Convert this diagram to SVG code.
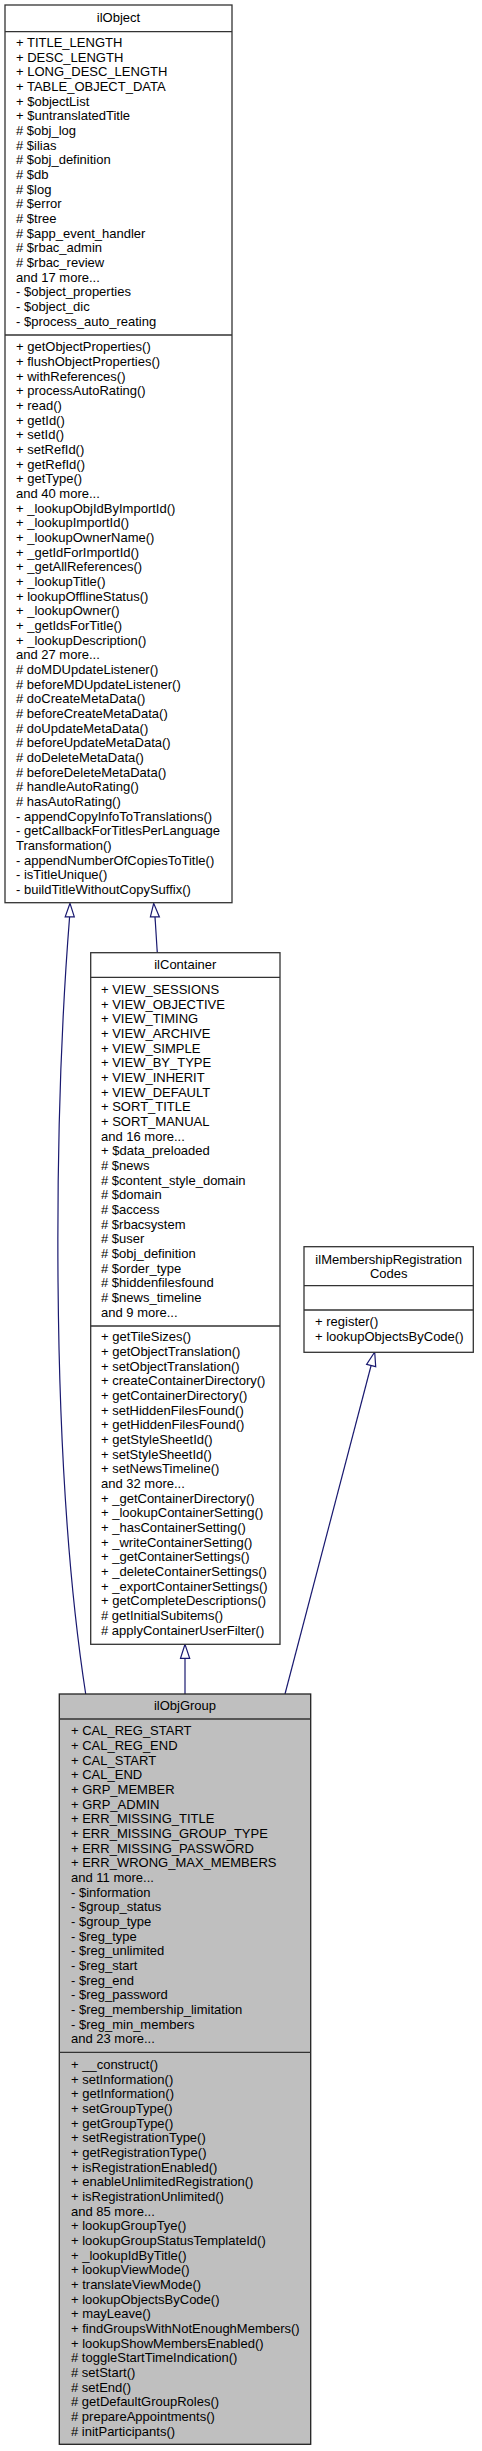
<svg xmlns="http://www.w3.org/2000/svg" width="482" height="2451" viewBox="0 0 482 2451">
<style>
text{font-family:"Liberation Sans",Arial,Helvetica,sans-serif;font-size:13px;fill:#000}
.box{fill:#fff;stroke:#333;stroke-width:1.3}
.cur{fill:#bfbfbf;stroke:#222;stroke-width:1.3}
.div{stroke:#333;stroke-width:1.3}
.edge{fill:none;stroke:#191970;stroke-width:1.2}
.head{fill:#fff;stroke:#191970;stroke-width:1.2}
.t{text-anchor:middle}
</style>
<rect width="482" height="2451" fill="#fff"/>
<g id="connectors">
<path class="edge" d="M157.3,952.7 L155,916.9"/>
<polygon class="head" points="153.7,903.3 150.4,916.9 159.4,916.9"/>
<path class="edge" d="M85.7,1694 C48,1450 55,1100 69.6,916.9"/>
<polygon class="head" points="70,903.3 65.2,916.9 74.3,916.9"/>
<path class="edge" d="M185,1694 V1658.3"/>
<polygon class="head" points="185,1644.3 180.5,1658.3 189.7,1658.3"/>
<path class="edge" d="M285,1694 L371.1,1365.5"/>
<polygon class="head" points="374.7,1352 366.6,1364.3 375.7,1366.7"/>
</g>
<g id="ilObject">
<rect class="box" x="5" y="5" width="227" height="897.7"/>
<line class="div" x1="5" y1="31.7" x2="232" y2="31.7"/>
<line class="div" x1="5" y1="335" x2="232" y2="335"/>
<text class="t" x="118.5" y="21.9">ilObject</text>
<text x="16" y="46.9"><tspan x="16">+ TITLE_LENGTH</tspan><tspan x="16" dy="14.67">+ DESC_LENGTH</tspan><tspan x="16" dy="14.67">+ LONG_DESC_LENGTH</tspan><tspan x="16" dy="14.67">+ TABLE_OBJECT_DATA</tspan><tspan x="16" dy="14.67">+ $objectList</tspan><tspan x="16" dy="14.67">+ $untranslatedTitle</tspan><tspan x="16" dy="14.67"># $obj_log</tspan><tspan x="16" dy="14.67"># $ilias</tspan><tspan x="16" dy="14.67"># $obj_definition</tspan><tspan x="16" dy="14.67"># $db</tspan><tspan x="16" dy="14.67"># $log</tspan><tspan x="16" dy="14.67"># $error</tspan><tspan x="16" dy="14.67"># $tree</tspan><tspan x="16" dy="14.67"># $app_event_handler</tspan><tspan x="16" dy="14.67"># $rbac_admin</tspan><tspan x="16" dy="14.67"># $rbac_review</tspan><tspan x="16" dy="14.67">and 17 more...</tspan><tspan x="16" dy="14.67">- $object_properties</tspan><tspan x="16" dy="14.67">- $object_dic</tspan><tspan x="16" dy="14.67">- $process_auto_reating</tspan></text>
<text x="16" y="351.3"><tspan x="16">+ getObjectProperties()</tspan><tspan x="16" dy="14.67">+ flushObjectProperties()</tspan><tspan x="16" dy="14.67">+ withReferences()</tspan><tspan x="16" dy="14.67">+ processAutoRating()</tspan><tspan x="16" dy="14.67">+ read()</tspan><tspan x="16" dy="14.67">+ getId()</tspan><tspan x="16" dy="14.67">+ setId()</tspan><tspan x="16" dy="14.67">+ setRefId()</tspan><tspan x="16" dy="14.67">+ getRefId()</tspan><tspan x="16" dy="14.67">+ getType()</tspan><tspan x="16" dy="14.67">and 40 more...</tspan><tspan x="16" dy="14.67">+ _lookupObjIdByImportId()</tspan><tspan x="16" dy="14.67">+ _lookupImportId()</tspan><tspan x="16" dy="14.67">+ _lookupOwnerName()</tspan><tspan x="16" dy="14.67">+ _getIdForImportId()</tspan><tspan x="16" dy="14.67">+ _getAllReferences()</tspan><tspan x="16" dy="14.67">+ _lookupTitle()</tspan><tspan x="16" dy="14.67">+ lookupOfflineStatus()</tspan><tspan x="16" dy="14.67">+ _lookupOwner()</tspan><tspan x="16" dy="14.67">+ _getIdsForTitle()</tspan><tspan x="16" dy="14.67">+ _lookupDescription()</tspan><tspan x="16" dy="14.67">and 27 more...</tspan><tspan x="16" dy="14.67"># doMDUpdateListener()</tspan><tspan x="16" dy="14.67"># beforeMDUpdateListener()</tspan><tspan x="16" dy="14.67"># doCreateMetaData()</tspan><tspan x="16" dy="14.67"># beforeCreateMetaData()</tspan><tspan x="16" dy="14.67"># doUpdateMetaData()</tspan><tspan x="16" dy="14.67"># beforeUpdateMetaData()</tspan><tspan x="16" dy="14.67"># doDeleteMetaData()</tspan><tspan x="16" dy="14.67"># beforeDeleteMetaData()</tspan><tspan x="16" dy="14.67"># handleAutoRating()</tspan><tspan x="16" dy="14.67"># hasAutoRating()</tspan><tspan x="16" dy="14.67">- appendCopyInfoToTranslations()</tspan><tspan x="16" dy="14.67">- getCallbackForTitlesPerLanguage</tspan><tspan x="16" dy="14.67">Transformation()</tspan><tspan x="16" dy="14.67">- appendNumberOfCopiesToTitle()</tspan><tspan x="16" dy="14.67">- isTitleUnique()</tspan><tspan x="16" dy="14.67">- buildTitleWithoutCopySuffix()</tspan></text>
</g>
<g id="ilContainer">
<rect class="box" x="90.7" y="952.7" width="189.3" height="691.6"/>
<line class="div" x1="90.7" y1="977.3" x2="280" y2="977.3"/>
<line class="div" x1="90.7" y1="1326" x2="280" y2="1326"/>
<text class="t" x="185.3" y="968.9">ilContainer</text>
<text x="101" y="993.9"><tspan x="101">+ VIEW_SESSIONS</tspan><tspan x="101" dy="14.67">+ VIEW_OBJECTIVE</tspan><tspan x="101" dy="14.67">+ VIEW_TIMING</tspan><tspan x="101" dy="14.67">+ VIEW_ARCHIVE</tspan><tspan x="101" dy="14.67">+ VIEW_SIMPLE</tspan><tspan x="101" dy="14.67">+ VIEW_BY_TYPE</tspan><tspan x="101" dy="14.67">+ VIEW_INHERIT</tspan><tspan x="101" dy="14.67">+ VIEW_DEFAULT</tspan><tspan x="101" dy="14.67">+ SORT_TITLE</tspan><tspan x="101" dy="14.67">+ SORT_MANUAL</tspan><tspan x="101" dy="14.67">and 16 more...</tspan><tspan x="101" dy="14.67">+ $data_preloaded</tspan><tspan x="101" dy="14.67"># $news</tspan><tspan x="101" dy="14.67"># $content_style_domain</tspan><tspan x="101" dy="14.67"># $domain</tspan><tspan x="101" dy="14.67"># $access</tspan><tspan x="101" dy="14.67"># $rbacsystem</tspan><tspan x="101" dy="14.67"># $user</tspan><tspan x="101" dy="14.67"># $obj_definition</tspan><tspan x="101" dy="14.67"># $order_type</tspan><tspan x="101" dy="14.67"># $hiddenfilesfound</tspan><tspan x="101" dy="14.67"># $news_timeline</tspan><tspan x="101" dy="14.67">and 9 more...</tspan></text>
<text x="101" y="1341.3"><tspan x="101">+ getTileSizes()</tspan><tspan x="101" dy="14.67">+ getObjectTranslation()</tspan><tspan x="101" dy="14.67">+ setObjectTranslation()</tspan><tspan x="101" dy="14.67">+ createContainerDirectory()</tspan><tspan x="101" dy="14.67">+ getContainerDirectory()</tspan><tspan x="101" dy="14.67">+ setHiddenFilesFound()</tspan><tspan x="101" dy="14.67">+ getHiddenFilesFound()</tspan><tspan x="101" dy="14.67">+ getStyleSheetId()</tspan><tspan x="101" dy="14.67">+ setStyleSheetId()</tspan><tspan x="101" dy="14.67">+ setNewsTimeline()</tspan><tspan x="101" dy="14.67">and 32 more...</tspan><tspan x="101" dy="14.67">+ _getContainerDirectory()</tspan><tspan x="101" dy="14.67">+ _lookupContainerSetting()</tspan><tspan x="101" dy="14.67">+ _hasContainerSetting()</tspan><tspan x="101" dy="14.67">+ _writeContainerSetting()</tspan><tspan x="101" dy="14.67">+ _getContainerSettings()</tspan><tspan x="101" dy="14.67">+ _deleteContainerSettings()</tspan><tspan x="101" dy="14.67">+ _exportContainerSettings()</tspan><tspan x="101" dy="14.67">+ getCompleteDescriptions()</tspan><tspan x="101" dy="14.67"># getInitialSubitems()</tspan><tspan x="101" dy="14.67"># applyContainerUserFilter()</tspan></text>
</g>
<g id="ilMembershipRegistrationCodes">
<rect class="box" x="304" y="1246.7" width="169.3" height="105.6"/>
<line class="div" x1="304" y1="1285.7" x2="473.3" y2="1285.7"/>
<line class="div" x1="304" y1="1310" x2="473.3" y2="1310"/>
<text class="t" x="388.7" y="1264"><tspan x="388.7">ilMembershipRegistration</tspan><tspan x="388.7" dy="14">Codes</tspan></text>
<text x="315" y="1326.3"><tspan x="315">+ register()</tspan><tspan x="315" dy="14.67">+ lookupObjectsByCode()</tspan></text>
</g>
<g id="ilObjGroup">
<rect class="cur" x="59.3" y="1694" width="251.4" height="750.3"/>
<line class="div" x1="59.3" y1="1719" x2="310.7" y2="1719"/>
<line class="div" x1="59.3" y1="2052.3" x2="310.7" y2="2052.3"/>
<text class="t" x="185" y="1710.3">ilObjGroup</text>
<text x="71" y="1735.3"><tspan x="71">+ CAL_REG_START</tspan><tspan x="71" dy="14.67">+ CAL_REG_END</tspan><tspan x="71" dy="14.67">+ CAL_START</tspan><tspan x="71" dy="14.67">+ CAL_END</tspan><tspan x="71" dy="14.67">+ GRP_MEMBER</tspan><tspan x="71" dy="14.67">+ GRP_ADMIN</tspan><tspan x="71" dy="14.67">+ ERR_MISSING_TITLE</tspan><tspan x="71" dy="14.67">+ ERR_MISSING_GROUP_TYPE</tspan><tspan x="71" dy="14.67">+ ERR_MISSING_PASSWORD</tspan><tspan x="71" dy="14.67">+ ERR_WRONG_MAX_MEMBERS</tspan><tspan x="71" dy="14.67">and 11 more...</tspan><tspan x="71" dy="14.67">- $information</tspan><tspan x="71" dy="14.67">- $group_status</tspan><tspan x="71" dy="14.67">- $group_type</tspan><tspan x="71" dy="14.67">- $reg_type</tspan><tspan x="71" dy="14.67">- $reg_unlimited</tspan><tspan x="71" dy="14.67">- $reg_start</tspan><tspan x="71" dy="14.67">- $reg_end</tspan><tspan x="71" dy="14.67">- $reg_password</tspan><tspan x="71" dy="14.67">- $reg_membership_limitation</tspan><tspan x="71" dy="14.67">- $reg_min_members</tspan><tspan x="71" dy="14.67">and 23 more...</tspan></text>
<text x="71" y="2068.9"><tspan x="71">+ __construct()</tspan><tspan x="71" dy="14.67">+ setInformation()</tspan><tspan x="71" dy="14.67">+ getInformation()</tspan><tspan x="71" dy="14.67">+ setGroupType()</tspan><tspan x="71" dy="14.67">+ getGroupType()</tspan><tspan x="71" dy="14.67">+ setRegistrationType()</tspan><tspan x="71" dy="14.67">+ getRegistrationType()</tspan><tspan x="71" dy="14.67">+ isRegistrationEnabled()</tspan><tspan x="71" dy="14.67">+ enableUnlimitedRegistration()</tspan><tspan x="71" dy="14.67">+ isRegistrationUnlimited()</tspan><tspan x="71" dy="14.67">and 85 more...</tspan><tspan x="71" dy="14.67">+ lookupGroupTye()</tspan><tspan x="71" dy="14.67">+ lookupGroupStatusTemplateId()</tspan><tspan x="71" dy="14.67">+ _lookupIdByTitle()</tspan><tspan x="71" dy="14.67">+ lookupViewMode()</tspan><tspan x="71" dy="14.67">+ translateViewMode()</tspan><tspan x="71" dy="14.67">+ lookupObjectsByCode()</tspan><tspan x="71" dy="14.67">+ mayLeave()</tspan><tspan x="71" dy="14.67">+ findGroupsWithNotEnoughMembers()</tspan><tspan x="71" dy="14.67">+ lookupShowMembersEnabled()</tspan><tspan x="71" dy="14.67"># toggleStartTimeIndication()</tspan><tspan x="71" dy="14.67"># setStart()</tspan><tspan x="71" dy="14.67"># setEnd()</tspan><tspan x="71" dy="14.67"># getDefaultGroupRoles()</tspan><tspan x="71" dy="14.67"># prepareAppointments()</tspan><tspan x="71" dy="14.67"># initParticipants()</tspan></text>
</g>
</svg>
